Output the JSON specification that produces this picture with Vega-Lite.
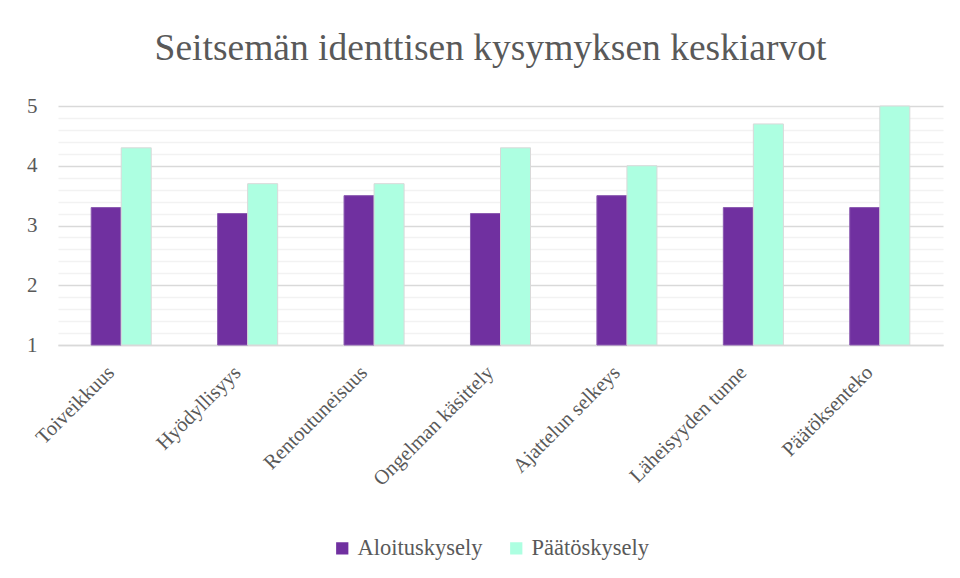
{
  "$schema": "https://vega.github.io/schema/vega-lite/v6.json",
  "autosize": "none",
  "width": 885,
  "height": 239,
  "padding": {"left": 58, "top": 106, "right": 17, "bottom": 233},
  "background": "white",
  "title": {
    "text": "Seitsemän identtisen kysymyksen keskiarvot",
    "font": "'Liberation Serif', 'Times New Roman', serif",
    "fontSize": 37.5,
    "fontWeight": "normal",
    "color": "#595959",
    "anchor": "middle",
    "dx": -10,
    "offset": 28
  },
  "data": {
    "values": [
      {"kysymys": "Toiveikkuus", "kysely": "Aloituskysely", "arvo": 3.3},
      {"kysymys": "Toiveikkuus", "kysely": "Päätöskysely", "arvo": 4.3},
      {"kysymys": "Hyödyllisyys", "kysely": "Aloituskysely", "arvo": 3.2},
      {"kysymys": "Hyödyllisyys", "kysely": "Päätöskysely", "arvo": 3.7},
      {"kysymys": "Rentoutuneisuus", "kysely": "Aloituskysely", "arvo": 3.5},
      {"kysymys": "Rentoutuneisuus", "kysely": "Päätöskysely", "arvo": 3.7},
      {"kysymys": "Ongelman käsittely", "kysely": "Aloituskysely", "arvo": 3.2},
      {"kysymys": "Ongelman käsittely", "kysely": "Päätöskysely", "arvo": 4.3},
      {"kysymys": "Ajattelun selkeys", "kysely": "Aloituskysely", "arvo": 3.5},
      {"kysymys": "Ajattelun selkeys", "kysely": "Päätöskysely", "arvo": 4.0},
      {"kysymys": "Läheisyyden tunne", "kysely": "Aloituskysely", "arvo": 3.3},
      {"kysymys": "Läheisyyden tunne", "kysely": "Päätöskysely", "arvo": 4.7},
      {"kysymys": "Päätöksenteko", "kysely": "Aloituskysely", "arvo": 3.3},
      {"kysymys": "Päätöksenteko", "kysely": "Päätöskysely", "arvo": 5.0}
    ]
  },
  "mark": {"type": "bar", "strokeWidth": 1},
  "encoding": {
    "x": {
      "field": "kysymys",
      "type": "nominal",
      "sort": null,
      "scale": {"paddingInner": 0.525, "paddingOuter": 0.2625},
      "axis": {
        "title": null,
        "labelAngle": -45,
        "labelAlign": "right",
        "labelBaseline": "middle",
        "labelFont": "'Liberation Serif', 'Times New Roman', serif",
        "labelFontSize": 20.5,
        "labelColor": "#595959",
        "labelPadding": 24,
        "labelOffset": -10,
        "labelLimit": 300,
        "ticks": false,
        "domainColor": "#d9d9d9",
        "domainWidth": 1.5
      }
    },
    "xOffset": {"field": "kysely", "type": "nominal", "sort": ["Aloituskysely", "Päätöskysely"]},
    "y": {
      "field": "arvo",
      "type": "quantitative",
      "scale": {"domain": [1, 5], "nice": false, "zero": false},
      "axis": {
        "title": null,
        "values": [1, 1.2, 1.4, 1.6, 1.8, 2, 2.2, 2.4, 2.6, 2.8, 3, 3.2, 3.4, 3.6, 3.8, 4, 4.2, 4.4, 4.6, 4.8, 5],
        "labelExpr": "datum.value % 1 === 0 ? datum.value : ''",
        "labelFont": "'Liberation Serif', 'Times New Roman', serif",
        "labelFontSize": 21,
        "labelColor": "#595959",
        "labelPadding": 21,
        "ticks": false,
        "domain": false,
        "grid": true,
        "gridColor": {"condition": {"test": "datum.value % 1 === 0", "value": "#d9d9d9"}, "value": "#f2f2f2"},
        "gridWidth": {"condition": {"test": "datum.value % 1 === 0", "value": 1.5}, "value": 1.3}
      }
    },
    "y2": {"datum": 1},
    "color": {
      "field": "kysely",
      "type": "nominal",
      "sort": ["Aloituskysely", "Päätöskysely"],
      "scale": {"domain": ["Aloituskysely", "Päätöskysely"], "range": ["#7030a0", "#adffe1"]},
      "legend": {
        "title": null,
        "orient": "none",
        "direction": "horizontal",
        "legendX": 273,
        "legendY": 431,
        "symbolType": "square",
        "symbolSize": 150,
        "symbolStrokeWidth": 0,
        "labelFont": "'Liberation Serif', 'Times New Roman', serif",
        "labelFontSize": 22.5,
        "labelColor": "#595959",
        "labelOffset": 4,
        "columnPadding": 22
      }
    },
    "stroke": {
      "field": "kysely",
      "type": "nominal",
      "scale": {"domain": ["Aloituskysely", "Päätöskysely"], "range": ["#8a5ab0", "#d9d9d9"]},
      "legend": null
    }
  },
  "config": {"view": {"stroke": null}}
}
